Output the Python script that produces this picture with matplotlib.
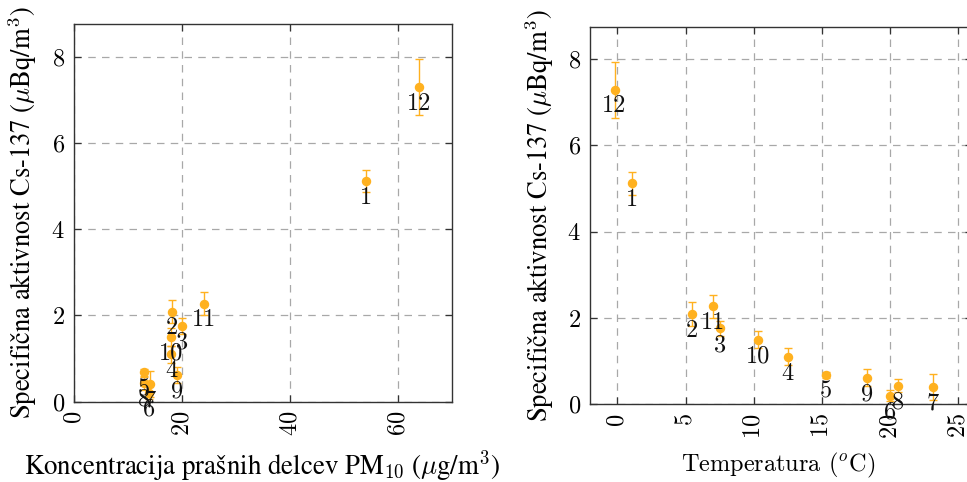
import matplotlib
matplotlib.use("Agg")
import matplotlib.pyplot as plt

# ---- data ----
point_ids = [1, 2, 3, 4, 5, 6, 7, 8, 9, 10, 11, 12]
pm10 = [54.0, 18.1, 20.0, 18.0, 13.0, 13.9, 14.1, 12.9, 19.1, 18.0, 24.0, 63.9]
temperature = [1.1, 5.5, 7.5, 12.5, 15.3, 20.0, 23.15, 20.6, 18.3, 10.3, 7.0, -0.2]
activity = [5.12, 2.09, 1.76, 1.10, 0.68, 0.20, 0.41, 0.43, 0.62, 1.50, 2.27, 7.29]
activity_err = [0.26, 0.27, 0.18, 0.20, 0.08, 0.13, 0.30, 0.15, 0.19, 0.20, 0.27, 0.65]

left_xticks = [0, 20, 40, 60]
right_xticks = [0, 5, 10, 15, 20, 25]
yticks = [0, 2, 4, 6, 8]

ylabel = r'Specifična aktivnost Cs-137 ($\mu$Bq/m$^3$)'
left_xlabel = r'Koncentracija prašnih delcev PM$_{10}$ ($\mu$g/m$^3$)'
right_xlabel = r'Temperatura ($^o$C)'

# ---- style ----
plt.rcParams['font.family'] = ['cmr10', 'DejaVu Serif']
plt.rcParams['mathtext.fontset'] = 'cm'
plt.rcParams['axes.formatter.use_mathtext'] = True
plt.rcParams['axes.unicode_minus'] = False

FS = 17.5
LABEL_FAMILY = ['STIXGeneral', 'Liberation Serif', 'DejaVu Serif']  # has č / š
COLOR = '#FFB11F'
SPINE = '#333333'

fig = plt.figure(figsize=(9.67, 4.82), dpi=100)
axL = fig.add_axes([74 / 967, (482 - 401.7) / 482, 378 / 967, 377.4 / 482])
axR = fig.add_axes([590 / 967, (482 - 404.3) / 482, 382 / 967, 377.6 / 482])


def style(ax, x, xticks, xlim, xlabel, xfamily, xlab_pos, ylab_x):
    ax.errorbar(x, activity, yerr=activity_err, fmt='o', color=COLOR, ms=5.8,
                elinewidth=1.0, capsize=3, capthick=1.0, zorder=3)
    for xi, yi, lab in zip(x, activity, point_ids):
        ax.annotate(str(lab), (xi, yi), xytext=(0, -4), textcoords='offset points',
                    ha='center', va='top', fontsize=FS, color='#111111', zorder=4)
    ax.set_xlim(*xlim)
    ax.set_ylim(0, 8.75)
    ax.set_xticks(xticks)
    ax.set_yticks(yticks)
    ax.grid(True, color='#a8a8a8', linestyle=(0, (6, 5)), linewidth=0.9)
    ax.set_axisbelow(True)
    ax.tick_params(axis='both', direction='in', length=5, width=0.9, color=SPINE,
                   top=True, right=True, labelsize=FS, pad=6.5)
    ax.tick_params(axis='x', labelrotation=90)
    for s in ax.spines.values():
        s.set_color(SPINE)
        s.set_linewidth(1.0)
    ax.set_xlabel(xlabel, fontsize=FS, family=xfamily)
    ax.set_ylabel(ylabel, fontsize=FS, family=LABEL_FAMILY)
    ax.xaxis.set_label_coords(xlab_pos[0], xlab_pos[1])
    ax.xaxis.label.set_va('center')
    ax.yaxis.set_label_coords(ylab_x, 0.5)
    ax.yaxis.label.set_va('center')


style(axL, pm10, left_xticks, (0, 70), left_xlabel, LABEL_FAMILY, (0.497, -0.170), -0.135)
style(axR, temperature, right_xticks, (-2, 26), right_xlabel,
      ['cmr10', 'DejaVu Serif'], (0.492, -0.161), -0.131)

# fit the substituted-font labels to the length they have in the reference
fig.canvas.draw()
r = fig.canvas.get_renderer()
for lab, target, use_h in [(axL.yaxis.label, 412, True), (axR.yaxis.label, 412, True),
                           (axL.xaxis.label, 475, False)]:
    bb = lab.get_window_extent(r)
    cur = bb.height if use_h else bb.width
    lab.set_fontsize(lab.get_fontsize() * target / cur)

fig.savefig('out.png', dpi=100)
